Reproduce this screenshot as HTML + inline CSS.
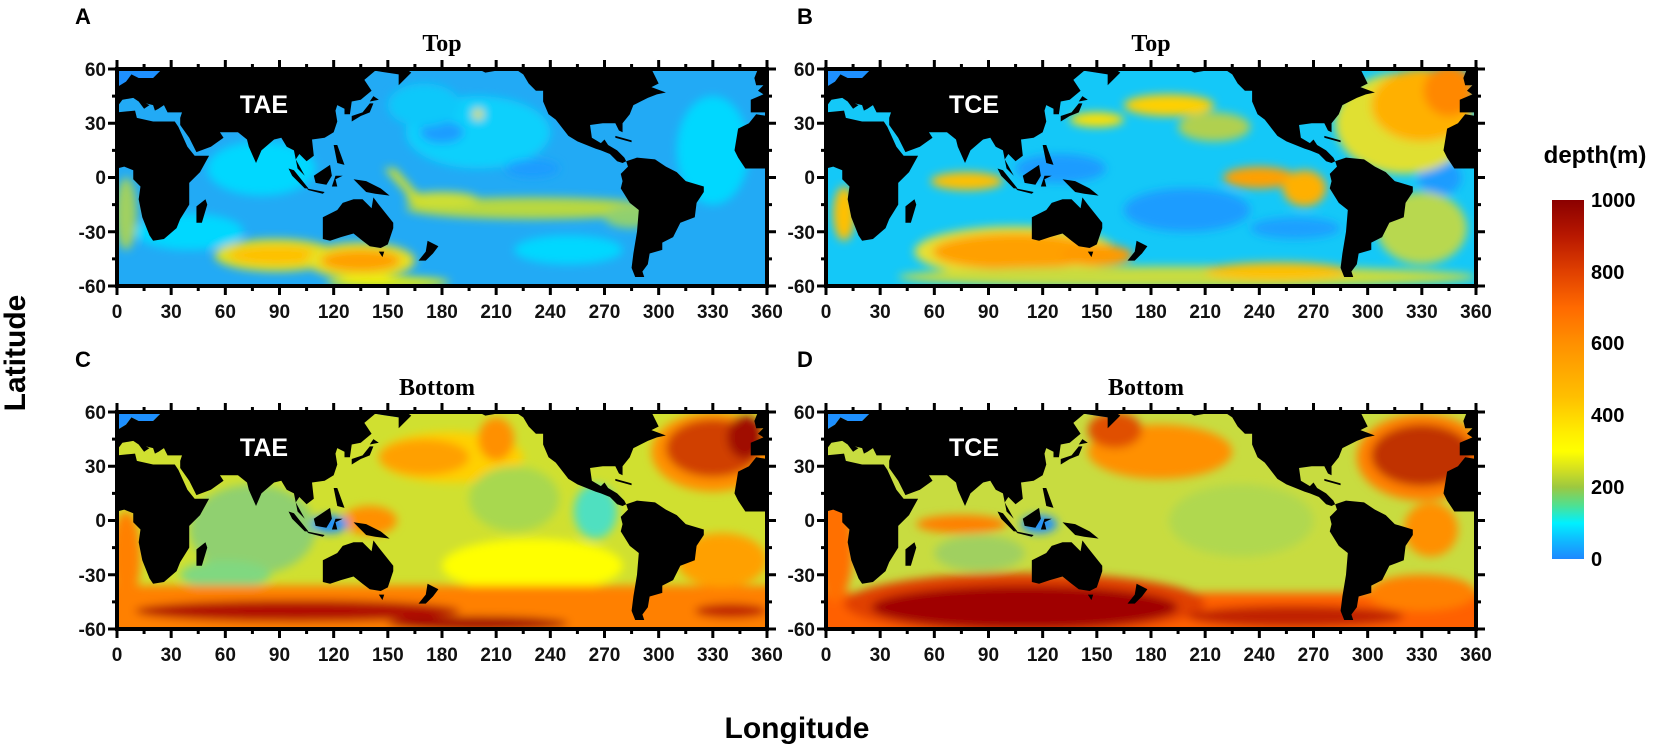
<!DOCTYPE html>
<html><head><meta charset="utf-8"><style>
html,body{margin:0;padding:0;background:#fff;}
svg{display:block;}
text{font-family:"Liberation Sans",Arial,sans-serif;font-weight:bold;}
.t{font-size:19px;fill:#111;}
.ti{font-family:"Liberation Serif",serif;font-size:24px;}
.lb{font-size:25px;fill:#fff;}
</style></head><body>
<svg width="1654" height="745" viewBox="0 0 1654 745" xmlns="http://www.w3.org/2000/svg">
<defs>
<filter id="bl" filterUnits="userSpaceOnUse" x="-20" y="-20" width="400" height="160"><feGaussianBlur stdDeviation="2.5"/></filter>
<clipPath id="cp"><rect x="0" y="0" width="360" height="120"/></clipPath>
<linearGradient id="cb" x1="0" y1="0" x2="0" y2="1">
<stop offset="0" stop-color="#8b0000"/><stop offset="0.1" stop-color="#b81800"/><stop offset="0.2" stop-color="#e04000"/><stop offset="0.3" stop-color="#ff6a00"/><stop offset="0.4" stop-color="#ff9000"/><stop offset="0.55" stop-color="#ffc000"/><stop offset="0.65" stop-color="#ffee00"/><stop offset="0.7" stop-color="#ffff00"/><stop offset="0.75" stop-color="#d4e020"/><stop offset="0.8" stop-color="#9cc840"/><stop offset="0.85" stop-color="#50e090"/><stop offset="0.9" stop-color="#00f0ff"/><stop offset="0.95" stop-color="#10b8ff"/><stop offset="1" stop-color="#1e88ff"/>
</linearGradient>
<g id="land">
<path fill="#1e90ff" d="M0,0 L25,0 20,5 12,5 8,3 5,7 0,10Z M140,0 L160,0 156,3 143,1Z M266,0 L267,5 275,9 280,7 282,2 283,0Z"/>
<path fill="#000" d="M0,10 L5,7 8,3 12,5 20,5 25,0 160,0 163,2 156,9 156,3 143,1 137,6 141,12 135,17 130,18 129,25 126,25 126,22 122,20 121,23 122,29 120,35 115,38 108,39 109,48 105,51 101,47 99,50 104,59 100,55 98,45 94,43 91,38 87,39 80,45 77,52 73,43 72,39 67,35 57,35 59,38 52,43 44,46 40,38 35,31 35,27 36,24 28,24 26,20 23,22 21,23 20,20 16,19 18,20 15,22 12,18 9,16 3,17 0,21Z
M0,24 L10,23 11,27 20,29 32,29 34,32 39,43 43,48 51,48 46,57 40,63 40,75 35,83 33,88 26,94 20,95 18,92 14,82 12,72 13,65 9,61 9,56 4,54 0,55Z
M44,85 L47,85 50,75 49,72 44,76Z
M114,82 L114,94 118,95 124,93 131,91 136,95 140,98 146,99 150,97 153,88 153,85 145,75 142,71 141,77 136,72 131,72 125,74 122,78Z
M145,101 L148,101 147,104Z M172,95 L178,98 175,102 171,106 167,106 171,101Z
M95,55 L98,56 106,66 104,66 97,59Z M109,59 L112,57 118,53 119,59 116,64 110,63Z M105,66 L115,68 114,69 106,67Z
M119,65 L121,59 125,59 121,61 122,65Z M131,61 L138,62 146,66 151,70 143,69 138,68 134,64Z M120,42 L122,42 126,53 122,52Z
M130,29 L135,26 140,24 142,19 140,19 136,24 130,26Z M140,18 L145,17 142,15Z
M200,0 L204,2 210,1 222,1 225,3 228,8 232,12 236,12 236,18 239,25 243,28 250,37 255,40 265,44 268,45 273,47 277,51 280,52 282,51 281,49 277,45 272,42 270,39 268,41 263,38 262,31 269,30 276,30 278,34 280,35 280,30 284,25 286,20 290,18 294,16 299,14 304,13 296,10 300,8 296,0Z
M282,51 L288,49 298,50 304,54 310,57 315,62 325,65 325,68 321,74 320,82 312,85 308,93 302,96 302,100 295,102 294,108 291,112 292,115 287,115 285,110 286,102 288,90 289,78 284,74 279,66 280,62 279,58 283,54Z
M276,37 L285,39.5 285,40.5 276,38Z
M360,0 L355,0 353,5 354,9 358,9 355,12 358,14 351,17 351,24 360,24Z
M360,26 L354,25 350,30 344,33 343,39 342,45 344,49 348,55 352,55 356,55 360,55Z"/>
</g>
<g id="ax">
<rect x="0" y="0" width="650" height="217" fill="none" stroke="#000" stroke-width="4"/>
<line x1="-1.5" y1="-4.5" x2="652" y2="-4.5" stroke="#000" stroke-width="9" stroke-dasharray="3 51.1667"/>
<line x1="25.58" y1="-2.5" x2="652" y2="-2.5" stroke="#000" stroke-width="5" stroke-dasharray="3 51.1667"/>
<line x1="-1.5" y1="221.5" x2="652" y2="221.5" stroke="#000" stroke-width="9" stroke-dasharray="3 51.1667"/>
<line x1="25.58" y1="219.5" x2="652" y2="219.5" stroke="#000" stroke-width="5" stroke-dasharray="3 51.1667"/>
<line x1="-4.5" y1="-1.5" x2="-4.5" y2="219" stroke="#000" stroke-width="9" stroke-dasharray="3 51.25"/>
<line x1="-2.5" y1="25.6" x2="-2.5" y2="219" stroke="#000" stroke-width="5" stroke-dasharray="3 51.25"/>
<line x1="654.5" y1="-1.5" x2="654.5" y2="219" stroke="#000" stroke-width="9" stroke-dasharray="3 51.25"/>
<line x1="652.5" y1="25.6" x2="652.5" y2="219" stroke="#000" stroke-width="5" stroke-dasharray="3 51.25"/>
</g>
</defs>

<!-- Panel A -->
<g transform="translate(117,69)">
<g transform="scale(1.80556,1.80833)" clip-path="url(#cp)">
<rect x="0" y="0" width="360" height="120" fill="#22aaf5"/>
<g filter="url(#bl)">
<ellipse cx="80" cy="55" rx="30" ry="15" fill="#00d8ff"/>
<ellipse cx="200" cy="35" rx="40" ry="20" fill="#10d0fc"/>
<ellipse cx="180" cy="35" rx="12" ry="6" fill="#1e9cff"/>
<ellipse cx="230" cy="55" rx="15" ry="5" fill="#1e9cff"/>
<ellipse cx="330" cy="45" rx="20" ry="30" fill="#00d8ff"/>
<ellipse cx="170" cy="20" rx="20" ry="12" fill="#10c8fa"/>
<ellipse cx="40" cy="90" rx="30" ry="10" fill="#00d8ff"/>
<ellipse cx="250" cy="100" rx="30" ry="8" fill="#00d8ff"/>
<ellipse cx="88" cy="103" rx="34" ry="9" fill="#e0e020"/>
<ellipse cx="88" cy="103" rx="26" ry="5" fill="#ffc000"/>
<ellipse cx="135" cy="106" rx="30" ry="10" fill="#e8e020"/>
<ellipse cx="135" cy="106" rx="22" ry="6" fill="#ffa000"/>
<ellipse cx="150" cy="118" rx="34" ry="3" fill="#f0f000"/>
<ellipse cx="230" cy="77" rx="70" ry="6" fill="#b8d840"/>
<ellipse cx="180" cy="72" rx="20" ry="4" fill="#d0e030"/>
<polygon points="148,55 154,55 172,75 166,75" fill="#d8e020"/>
<ellipse cx="5" cy="80" rx="6" ry="20" fill="#a0d060"/>
<ellipse cx="200" cy="25" rx="3" ry="3" fill="#e0e020"/>
<ellipse cx="285" cy="82" rx="15" ry="6" fill="#90d070"/>
</g>
<use href="#land"/>
</g>
<use href="#ax"/>
<text x="147" y="44" class="lb" text-anchor="middle">TAE</text>
<text x="325" y="-18" class="ti" text-anchor="middle">Top</text>
<g class="t" text-anchor="middle"><text x="0" y="249">0</text><text x="54.17" y="249">30</text><text x="108.33" y="249">60</text><text x="162.5" y="249">90</text><text x="216.67" y="249">120</text><text x="270.83" y="249">150</text><text x="325" y="249">180</text><text x="379.17" y="249">210</text><text x="433.33" y="249">240</text><text x="487.5" y="249">270</text><text x="541.67" y="249">300</text><text x="595.83" y="249">330</text><text x="650" y="249">360</text></g>
<g class="t" text-anchor="end"><text x="-11" y="7">60</text><text x="-11" y="61">30</text><text x="-11" y="115">0</text><text x="-11" y="170">-30</text><text x="-11" y="224">-60</text></g>
</g>

<!-- Panel B -->
<g transform="translate(826,69)">
<g transform="scale(1.80556,1.80833)" clip-path="url(#cp)">
<rect x="0" y="0" width="360" height="120" fill="#14c8f8"/>
<g filter="url(#bl)">
<ellipse cx="130" cy="55" rx="25" ry="8" fill="#1e9cff"/>
<ellipse cx="200" cy="78" rx="35" ry="12" fill="#1e9cff"/>
<ellipse cx="260" cy="88" rx="25" ry="6" fill="#1ea0ff"/>
<ellipse cx="340" cy="60" rx="12" ry="10" fill="#1e9cff"/>
<ellipse cx="105" cy="101" rx="56" ry="14" fill="#e8e030"/>
<ellipse cx="105" cy="101" rx="46" ry="10" fill="#ffa000"/>
<ellipse cx="150" cy="103" rx="20" ry="6" fill="#ff9a00"/>
<ellipse cx="200" cy="115" rx="160" ry="6" fill="#c8dc40"/>
<ellipse cx="250" cy="112" rx="40" ry="5" fill="#ffc000"/>
<ellipse cx="320" cy="30" rx="38" ry="28" fill="#e0e030"/>
<ellipse cx="330" cy="20" rx="28" ry="20" fill="#ffb000"/>
<ellipse cx="345" cy="12" rx="14" ry="14" fill="#ff8800"/>
<ellipse cx="190" cy="20" rx="25" ry="6" fill="#ffd000"/>
<ellipse cx="215" cy="32" rx="20" ry="8" fill="#b0d050"/>
<ellipse cx="150" cy="28" rx="15" ry="4" fill="#ffe000"/>
<ellipse cx="240" cy="60" rx="20" ry="6" fill="#ffa000"/>
<ellipse cx="265" cy="66" rx="12" ry="10" fill="#ffb000"/>
<ellipse cx="78" cy="62" rx="20" ry="5" fill="#ffc000"/>
<ellipse cx="10" cy="80" rx="6" ry="15" fill="#ffc000"/>
<ellipse cx="330" cy="88" rx="25" ry="20" fill="#b8d850"/>
</g>
<use href="#land"/>
</g>
<use href="#ax"/>
<text x="148" y="44" class="lb" text-anchor="middle">TCE</text>
<text x="325" y="-18" class="ti" text-anchor="middle">Top</text>
<g class="t" text-anchor="middle"><text x="0" y="249">0</text><text x="54.17" y="249">30</text><text x="108.33" y="249">60</text><text x="162.5" y="249">90</text><text x="216.67" y="249">120</text><text x="270.83" y="249">150</text><text x="325" y="249">180</text><text x="379.17" y="249">210</text><text x="433.33" y="249">240</text><text x="487.5" y="249">270</text><text x="541.67" y="249">300</text><text x="595.83" y="249">330</text><text x="650" y="249">360</text></g>
<g class="t" text-anchor="end"><text x="-11" y="7">60</text><text x="-11" y="61">30</text><text x="-11" y="115">0</text><text x="-11" y="170">-30</text><text x="-11" y="224">-60</text></g>
</g>

<!-- Panel C -->
<g transform="translate(117,412)">
<g transform="scale(1.80556,1.80833)" clip-path="url(#cp)">
<rect x="0" y="0" width="360" height="120" fill="#d0e030"/>
<g filter="url(#bl)">
<ellipse cx="75" cy="65" rx="35" ry="25" fill="#90d070"/>
<ellipse cx="60" cy="90" rx="25" ry="8" fill="#80d880"/>
<ellipse cx="185" cy="25" rx="40" ry="14" fill="#ffd000"/>
<ellipse cx="220" cy="48" rx="25" ry="18" fill="#a8d850"/>
<ellipse cx="265" cy="55" rx="12" ry="15" fill="#50e0c0"/>
<ellipse cx="170" cy="25" rx="25" ry="10" fill="#ffa000"/>
<ellipse cx="210" cy="15" rx="10" ry="12" fill="#ff9000"/>
<ellipse cx="230" cy="85" rx="50" ry="15" fill="#ffff00"/>
<rect x="-10" y="96" width="380" height="30" fill="#ff8000"/>
<ellipse cx="100" cy="110" rx="90" ry="6" fill="#b01000"/>
<ellipse cx="200" cy="117" rx="50" ry="4" fill="#a00000"/>
<ellipse cx="340" cy="110" rx="20" ry="4" fill="#c02000"/>
<ellipse cx="330" cy="22" rx="34" ry="22" fill="#ff9000"/>
<ellipse cx="330" cy="20" rx="26" ry="16" fill="#d04000"/>
<ellipse cx="348" cy="14" rx="10" ry="12" fill="#a01000"/>
<ellipse cx="5" cy="80" rx="8" ry="25" fill="#ff8000"/>
<ellipse cx="140" cy="60" rx="15" ry="8" fill="#ff9000"/>
<ellipse cx="118" cy="62" rx="10" ry="5" fill="#1e90ff"/>
<ellipse cx="335" cy="82" rx="25" ry="15" fill="#ffa000"/>
</g>
<use href="#land"/>
</g>
<use href="#ax"/>
<text x="147" y="44" class="lb" text-anchor="middle">TAE</text>
<text x="320" y="-17" class="ti" text-anchor="middle">Bottom</text>
<g class="t" text-anchor="middle"><text x="0" y="249">0</text><text x="54.17" y="249">30</text><text x="108.33" y="249">60</text><text x="162.5" y="249">90</text><text x="216.67" y="249">120</text><text x="270.83" y="249">150</text><text x="325" y="249">180</text><text x="379.17" y="249">210</text><text x="433.33" y="249">240</text><text x="487.5" y="249">270</text><text x="541.67" y="249">300</text><text x="595.83" y="249">330</text><text x="650" y="249">360</text></g>
<g class="t" text-anchor="end"><text x="-11" y="7">60</text><text x="-11" y="61">30</text><text x="-11" y="115">0</text><text x="-11" y="170">-30</text><text x="-11" y="224">-60</text></g>
</g>

<!-- Panel D -->
<g transform="translate(826,412)">
<g transform="scale(1.80556,1.80833)" clip-path="url(#cp)">
<rect x="0" y="0" width="360" height="120" fill="#c8dc40"/>
<g filter="url(#bl)">
<ellipse cx="230" cy="60" rx="40" ry="20" fill="#b0d850"/>
<ellipse cx="85" cy="78" rx="25" ry="10" fill="#a0d060"/>
<rect x="-10" y="100" width="380" height="30" fill="#ff6000"/>
<ellipse cx="110" cy="106" rx="100" ry="17" fill="#e04000"/>
<ellipse cx="110" cy="108" rx="85" ry="12" fill="#a00000"/>
<ellipse cx="260" cy="113" rx="60" ry="6" fill="#c02000"/>
<ellipse cx="330" cy="100" rx="30" ry="10" fill="#ff8000"/>
<ellipse cx="185" cy="22" rx="40" ry="15" fill="#ff9000"/>
<ellipse cx="160" cy="10" rx="15" ry="10" fill="#e05000"/>
<ellipse cx="330" cy="25" rx="36" ry="24" fill="#ff8000"/>
<ellipse cx="330" cy="24" rx="28" ry="17" fill="#c03000"/>
<ellipse cx="75" cy="62" rx="25" ry="5" fill="#ff8000"/>
<ellipse cx="5" cy="75" rx="10" ry="30" fill="#ff7000"/>
<ellipse cx="335" cy="65" rx="15" ry="15" fill="#ff9000"/>
<ellipse cx="118" cy="62" rx="10" ry="5" fill="#1e90ff"/>
</g>
<use href="#land"/>
</g>
<use href="#ax"/>
<text x="148" y="44" class="lb" text-anchor="middle">TCE</text>
<text x="320" y="-17" class="ti" text-anchor="middle">Bottom</text>
<g class="t" text-anchor="middle"><text x="0" y="249">0</text><text x="54.17" y="249">30</text><text x="108.33" y="249">60</text><text x="162.5" y="249">90</text><text x="216.67" y="249">120</text><text x="270.83" y="249">150</text><text x="325" y="249">180</text><text x="379.17" y="249">210</text><text x="433.33" y="249">240</text><text x="487.5" y="249">270</text><text x="541.67" y="249">300</text><text x="595.83" y="249">330</text><text x="650" y="249">360</text></g>
<g class="t" text-anchor="end"><text x="-11" y="7">60</text><text x="-11" y="61">30</text><text x="-11" y="115">0</text><text x="-11" y="170">-30</text><text x="-11" y="224">-60</text></g>
</g>

<text x="75" y="24" font-size="22">A</text>
<text x="797" y="24" font-size="22">B</text>
<text x="75" y="367" font-size="22">C</text>
<text x="797" y="367" font-size="22">D</text>

<text transform="translate(25,353) rotate(-90)" text-anchor="middle" font-size="30">Latitude</text>
<text x="797" y="738" text-anchor="middle" font-size="30">Longitude</text>

<text x="1595" y="163" text-anchor="middle" font-size="24">depth(m)</text>
<rect x="1552" y="200" width="32" height="359" fill="url(#cb)"/>
<g font-size="20">
<text x="1591" y="207">1000</text>
<text x="1591" y="279">800</text>
<text x="1591" y="350">600</text>
<text x="1591" y="422">400</text>
<text x="1591" y="494">200</text>
<text x="1591" y="566">0</text>
</g>
</svg>
</body></html>
